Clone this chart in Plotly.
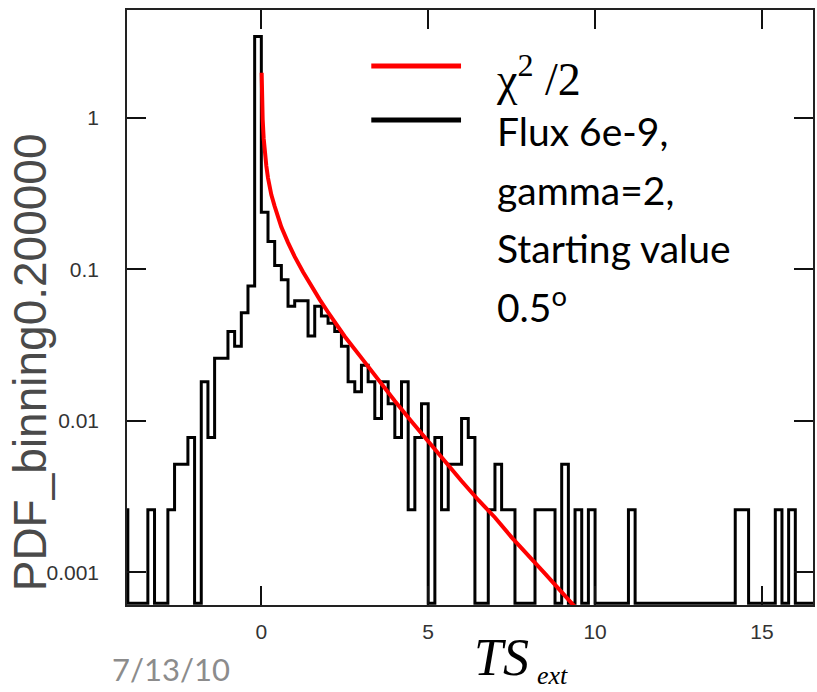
import plotly.graph_objects as go

# ---------------- data ----------------
BIN_WIDTH = 0.2
BIN_START = -4.2          # left edge of the first bin
COUNTS = [
    1, 0, 0, 0, 1, 0, 0, 1, 2, 2,          # -4.2 .. -2.2
    3, 0, 7, 3, 10, 10, 15, 12, 20, 30,    # -2.2 .. -0.2
    1327,                                  # -0.2 .. 0.0
    92, 59, 41, 33, 22, 24, 24, 14, 22, 19,   # 0 .. 2
    17, 15, 12, 7, 6, 9, 7, 4, 7, 5,          # 2 .. 4
    3, 7, 1, 3, 5, 0, 3, 1, 2, 2,             # 4 .. 6
    4, 3, 0, 0, 1, 2, 1, 1, 0, 0,             # 6 .. 8
    0, 1, 1, 1, 0, 2, 0, 1, 0, 1,             # 8 .. 10
    0, 0, 0, 0, 0, 1, 0, 0, 0, 0,             # 10 .. 12
    0, 0, 0, 0, 0, 0, 0, 0, 0, 0,             # 12 .. 14
    0, 1, 1, 0, 0, 0, 0, 1, 0, 1,             # 14 .. 16
    0, 0, 0,                                  # 16 .. 16.6
]

# chi^2/2 reference curve
CHI2_X = [0.01, 0.02, 0.04, 0.07, 0.1, 0.15, 0.2, 0.3, 0.4, 0.5, 0.6, 0.8,
          1.0, 1.25, 1.5, 1.75, 2.0, 2.5, 3.0, 3.5, 4.0, 4.5, 5.0, 5.5,
          6.0, 6.5, 7.0, 7.5, 8.0, 8.5, 9.0, 9.4]
CHI2_Y = [1.98, 1.40, 0.98, 0.73, 0.60, 0.48, 0.40, 0.31, 0.26, 0.22, 0.19, 0.15,
          0.121, 0.096, 0.077, 0.063, 0.052, 0.036, 0.026, 0.0185, 0.0135, 0.0099,
          0.0073, 0.0054, 0.0040, 0.0030, 0.0023, 0.0017, 0.0013, 0.00098, 0.00074,
          0.00059]

Y_TICKS = [0.001, 0.01, 0.1, 1]
Y_TICK_TEXT = ["0.001", "0.01", "0.1", "1"]
X_TICKS = [0, 5, 10, 15]
X_TICK_TEXT = ["0", "5", "10", "15"]

X_RANGE = [-4.025, 16.53]
Y_RANGE_LOG = [-3.216, 0.711]
ZERO_LEVEL = 10 ** (Y_RANGE_LOG[0] + 0.012)   # empty bins are drawn on the bottom edge

LEGEND_CHI = "χ<sup>2</sup> /2"
LEGEND_DATA = ["Flux 6e-9,", "gamma=2,", "Starting value", "0.5<sup>o</sup>"]

# ---------------- build the histogram step line ----------------
total = sum(COUNTS)
pdf = [c / (total * BIN_WIDTH) for c in COUNTS]
edges = [BIN_START + i * BIN_WIDTH for i in range(len(COUNTS) + 1)]
step_y = [v if v > 0 else ZERO_LEVEL for v in pdf]
step_y = step_y + [step_y[-1]]

fig = go.Figure()
fig.add_trace(go.Scatter(
    x=edges, y=step_y, mode="lines", line=dict(color="black", width=3, shape="hv"),
    name="Flux 6e-9, gamma=2, Starting value 0.5°", showlegend=False,
))
fig.add_trace(go.Scatter(
    x=CHI2_X, y=CHI2_Y, mode="lines", line=dict(color="#ff0000", width=4),
    name="χ²/2", showlegend=False,
))

W, H = 817, 692
L, R, T, B = 127, 2, 10, 87
PW, PH = W - L - R, H - T - B


def px(xp):
    return (xp - L) / PW


def py(yp):
    return (H - B - yp) / PH


axis_common = dict(
    showline=True, linecolor="#222222", linewidth=1.5, mirror="ticks",
    ticks="inside", ticklen=19, tickwidth=1.5, tickcolor="#111111",
    showgrid=False, zeroline=False,
    tickfont=dict(family="Liberation Sans, Arial, sans-serif", size=21, color="#333333"),
)

fig.update_layout(
    width=W, height=H,
    margin=dict(l=L, r=R, t=T, b=B),
    paper_bgcolor="white", plot_bgcolor="white",
    xaxis=dict(range=X_RANGE, tickvals=X_TICKS, ticktext=X_TICK_TEXT,
               ticklabelstandoff=7, **axis_common),
    yaxis=dict(type="log", range=Y_RANGE_LOG, tickvals=Y_TICKS, ticktext=Y_TICK_TEXT,
               ticklabelstandoff=22, **axis_common),
    showlegend=False,
)

# legend samples
fig.add_shape(type="line", xref="paper", yref="paper", x0=px(372), x1=px(462),
              y0=py(66), y1=py(66), line=dict(color="#ff0000", width=5))
fig.add_shape(type="line", xref="paper", yref="paper", x0=px(372), x1=px(462),
              y0=py(120), y1=py(120), line=dict(color="black", width=5))

ann = []
ann.append(dict(text=LEGEND_CHI, x=px(495), y=py(76), xanchor="left", yanchor="middle",
                font=dict(family="Liberation Serif, Times New Roman, serif", size=46, color="black")))
for txt, yc in zip(LEGEND_DATA, [131, 190, 248, 304]):
    ann.append(dict(text=txt, x=px(496), y=py(yc), xanchor="left", yanchor="middle",
                    font=dict(family="Lato, sans-serif", size=39, color="black")))
# axis titles
ann.append(dict(text="PDF_binning0.200000", x=px(30), y=py(362), textangle=-90,
                xanchor="center", yanchor="middle",
                font=dict(family="Liberation Sans, Arial, sans-serif", size=46, color="#4a4a4a")))
ann.append(dict(text="<i>TS</i>", x=px(503), y=py(657), xanchor="center", yanchor="middle",
                font=dict(family="Liberation Serif, Times New Roman, serif", size=52, color="black")))
ann.append(dict(text="<i>ext</i>", x=px(536), y=py(675), xanchor="left", yanchor="middle",
                font=dict(family="Liberation Serif, Times New Roman, serif", size=26, color="black")))
ann.append(dict(text="7/13/10", x=px(110), y=py(669), xanchor="left", yanchor="middle",
                font=dict(family="Lato, sans-serif", size=31, color="#8c8c8c")))
for a in ann:
    a.update(xref="paper", yref="paper", showarrow=False)
fig.update_layout(annotations=ann)

fig.write_html("out.html")
